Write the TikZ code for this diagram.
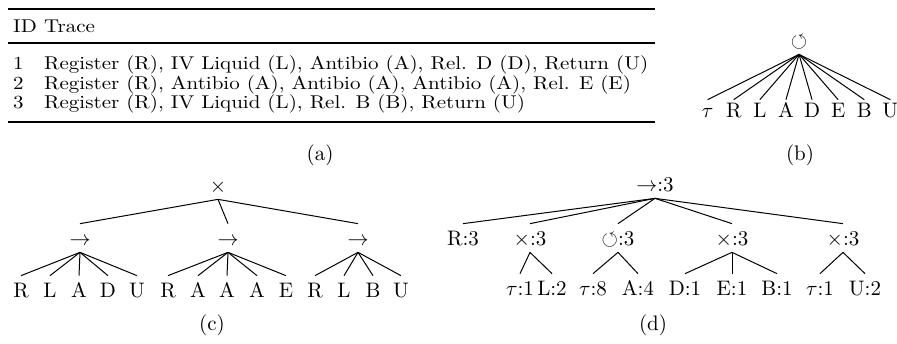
\documentclass[tikz,border=0pt]{standalone}
\usepackage{amssymb}
\usepackage{graphicx}
\newcommand{\bigtxt}[1]{\scalebox{2.1}{#1}}
\newcommand{\tabtxt}[1]{\scalebox{2.1}[1.85]{#1}}
\begin{document}
\begin{tikzpicture}[x=1pt,y=-1pt,
  every node/.style={font=\fontsize{10}{12}\selectfont},
  txt/.style={inner sep=0pt, anchor=base west},
  capt/.style={inner sep=0pt, anchor=center},
  tn/.style={inner xsep=0pt, inner ysep=7pt, text height=14.3pt, text depth=0pt, anchor=center},
  bl/.style={tn, inner ysep=3pt},
  conn/.style={line width=1pt},
  rulethick/.style={line width=2pt},
  rulethin/.style={line width=1.2pt}]
\useasboundingbox (0,0) rectangle (897,343);
% ---------------- (a) table
\draw[rulethick] (8,9) -- (655,9);
\draw[rulethin] (8,43) -- (655,43);
\draw[rulethick] (8,122) -- (655,122);
\node[txt] (hid) at (13,32) {\tabtxt{ID}};
\node[txt] (htr) at (44,32) {\tabtxt{Trace}};
\node[txt] (n1) at (13,69) {\tabtxt{1}};
\node[txt] (t1) at (44,69) {\tabtxt{Register (R), IV Liquid (L), Antibio (A), Rel. D (D), Return (U)}};
\node[txt] (n2) at (13,89) {\tabtxt{2}};
\node[txt] (t2) at (44,89) {\tabtxt{Register (R), Antibio (A), Antibio (A), Antibio (A), Rel. E (E)}};
\node[txt] (n3) at (13,108) {\tabtxt{3}};
\node[txt] (t3) at (44,108) {\tabtxt{Register (R), IV Liquid (L), Rel. B (B), Return (U)}};
\node[capt] (capa) at (320,155) {\bigtxt{(a)}};
% ---------------- (b) loop tree
\node[tn] (broot) at (799,40) {\bigtxt{$\circlearrowleft$}};
\foreach \l [count=\i from 0] in {{$\tau$},R,L,A,D,E,B,U}{
  \node[bl] (b\i) at ({799+(\i-3.5)*26.1},110) {\bigtxt{\l}};
  \draw[conn] (broot.south) -- (b\i.north);
}
\node[capt] (capb) at (800,155) {\bigtxt{(b)}};
% ---------------- (c) xor of sequences
\node[tn] (croot) at (218,185) {\bigtxt{$\times$}};
\node[tn] (c1) at (80,238) {\bigtxt{$\rightarrow$}};
\node[tn] (c2) at (228,238) {\bigtxt{$\rightarrow$}};
\node[tn] (c3) at (358,238) {\bigtxt{$\rightarrow$}};
\foreach \c in {c1,c2,c3}{\draw[conn] (croot.south) -- (\c.north);}
\foreach \l/\x [count=\i] in {R/21,L/50,A/79,D/108,U/137}{
  \node[tn] (c1l\i) at (\x,290) {\bigtxt{\l}};
  \draw[conn] (c1.south) -- (c1l\i.north);
}
\foreach \l/\x [count=\i] in {R/168,A/198,A/227,A/257,E/286}{
  \node[tn] (c2l\i) at (\x,290) {\bigtxt{\l}};
  \draw[conn] (c2.south) -- (c2l\i.north);
}
\foreach \l/\x [count=\i] in {R/315,L/344,B/373,U/401}{
  \node[tn] (c3l\i) at (\x,290) {\bigtxt{\l}};
  \draw[conn] (c3.south) -- (c3l\i.north);
}
\node[capt] (capc) at (212,325) {\bigtxt{(c)}};
% ---------------- (d) annotated tree
\node[tn] (droot) at (655,184) {\bigtxt{$\rightarrow$:3}};
\node[tn] (d1) at (463,238) {\bigtxt{R:3}};
\node[tn] (d2) at (530,238) {\bigtxt{$\times$:3}};
\node[tn] (d3) at (618,238) {\bigtxt{$\circlearrowleft$:3}};
\node[tn] (d4) at (732,238) {\bigtxt{$\times$:3}};
\node[tn] (d5) at (843,238) {\bigtxt{$\times$:3}};
\foreach \c in {d1,d2,d3,d4,d5}{\draw[conn] (droot.south) -- (\c.north);}
\node[tn] (d21) at (520,288) {\bigtxt{$\tau$:1}};
\node[tn] (d22) at (552,288) {\bigtxt{L:2}};
\node[tn] (d31) at (593,288) {\bigtxt{$\tau$:8}};
\node[tn] (d32) at (638,288) {\bigtxt{A:4}};
\node[tn] (d41) at (685,288) {\bigtxt{D:1}};
\node[tn] (d42) at (732,288) {\bigtxt{E:1}};
\node[tn] (d43) at (777,288) {\bigtxt{B:1}};
\node[tn] (d51) at (820,288) {\bigtxt{$\tau$:1}};
\node[tn] (d52) at (865,288) {\bigtxt{U:2}};
\draw[conn] (d2.south) -- (d21.north);
\draw[conn] (d2.south) -- (d22.north);
\draw[conn] (d3.south) -- (d31.north);
\draw[conn] (d3.south) -- (d32.north);
\draw[conn] (d4.south) -- (d41.north);
\draw[conn] (d4.south) -- (d42.north);
\draw[conn] (d4.south) -- (d43.north);
\draw[conn] (d5.south) -- (d51.north);
\draw[conn] (d5.south) -- (d52.north);
\node[capt] (capd) at (653,325) {\bigtxt{(d)}};
\end{tikzpicture}
\end{document}
